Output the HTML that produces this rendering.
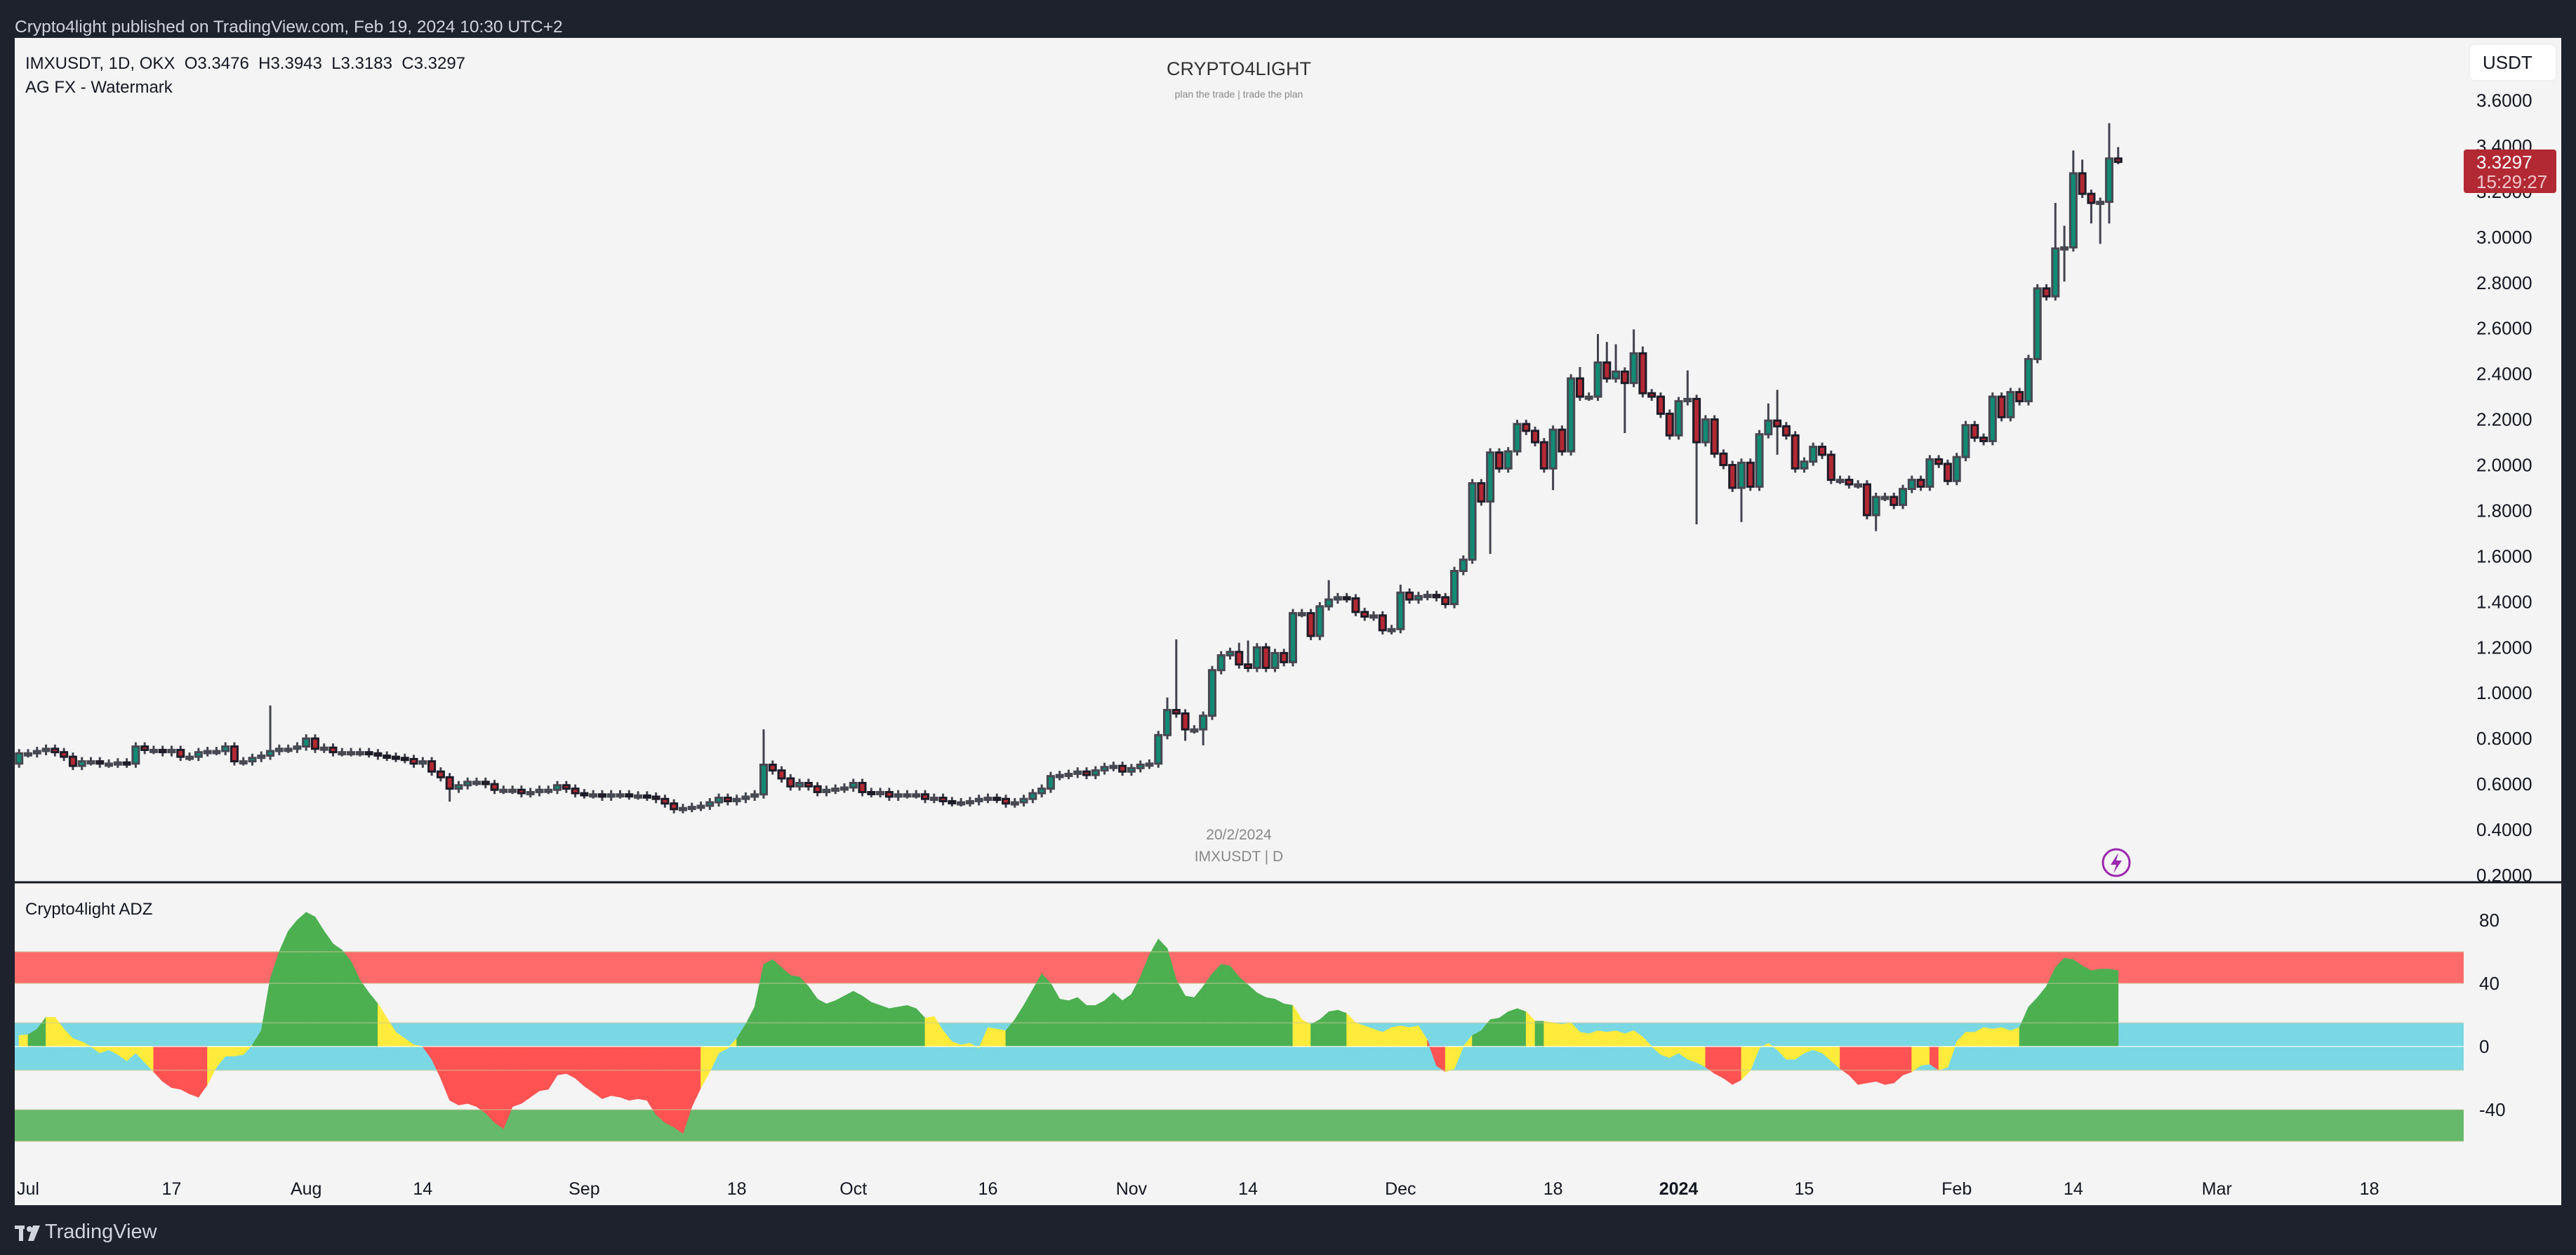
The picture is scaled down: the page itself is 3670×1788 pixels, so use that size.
<!DOCTYPE html>
<html><head><meta charset="utf-8">
<style>
html,body{margin:0;padding:0;background:#1e222d;}
svg{display:block;font-family:"Liberation Sans",sans-serif;}
</style></head>
<body>
<svg id="chart" xmlns="http://www.w3.org/2000/svg" width="3670" height="1788" viewBox="0 0 3670 1788">
  <rect x="0" y="0" width="3670" height="1788" fill="#1e222d"/>
  <text x="21" y="46" font-size="24.5" fill="#d1d4dc">Crypto4light published on TradingView.com, Feb 19, 2024 10:30 UTC+2</text>
  <rect x="21" y="54" width="3628" height="1663" fill="#f4f4f4"/>
  <g id="bands"></g>
  <g id="area"></g>
  <g id="bandlines"></g>
  <g id="candles"></g>
  <g id="yaxis"></g>
  <g id="iaxis"></g>
  <g id="xaxis"></g>
  <line x1="21" y1="1257" x2="3649" y2="1257" stroke="#131722" stroke-width="3"/>
  <text x="36" y="98" font-size="24" fill="#131722" xml:space="preserve">IMXUSDT, 1D, OKX  O3.3476  H3.3943  L3.3183  C3.3297</text>
  <text x="36" y="132" font-size="24" fill="#131722">AG FX - Watermark</text>
  <text x="36" y="1303" font-size="24" fill="#131722">Crypto4light ADZ</text>
  <text x="1765" y="107" font-size="27" fill="#333" text-anchor="middle">CRYPTO4LIGHT</text>
  <text x="1765" y="139" font-size="14" fill="#888" text-anchor="middle">plan the trade | trade the plan</text>
  <text x="1765" y="1196" font-size="21" fill="#888" text-anchor="middle">20/2/2024</text>
  <text x="1765" y="1227" font-size="21" fill="#888" text-anchor="middle">IMXUSDT | D</text>
  <g>
    <circle cx="3015" cy="1229" r="19" fill="none" stroke="#9c27b0" stroke-width="3"/>
    <path d="M3018 1215 L3007 1232 L3015 1232 L3011 1244 L3023 1226 L3015 1226 Z" fill="#9c27b0"/>
  </g>
  <g>
    <rect x="3518" y="63" width="124" height="52" rx="8" fill="#ffffff" stroke="#e6e6e6"/>
    <text x="3537" y="98" font-size="26" fill="#131722">USDT</text>
  </g>
  <g>
    <rect x="21" y="1746" width="14" height="5" fill="#d1d4dc"/>
    <rect x="27" y="1746" width="6" height="22" fill="#d1d4dc"/>
    <circle cx="42" cy="1751" r="4" fill="#d1d4dc"/>
    <path d="M47 1746 L57 1746 L48 1768 L40 1768 Z" fill="#d1d4dc"/>
    <text x="64" y="1764" font-size="29" fill="#d1d4dc">TradingView</text>
  </g>
</svg>
<script>
// ---------- price data ----------
const firstOpen = 0.69;
const closes = [0.735,0.735,0.745,0.755,0.74,0.72,0.68,0.70,0.70,0.69,0.69,0.695,0.69,0.765,0.75,0.75,0.74,0.75,0.72,0.72,
0.74,0.745,0.745,0.765,0.70,0.70,0.715,0.725,0.745,0.755,0.755,0.765,0.80,0.755,0.76,0.74,0.74,0.74,0.74,0.735,
0.725,0.72,0.715,0.71,0.69,0.70,0.655,0.63,0.58,0.595,0.61,0.61,0.60,0.575,0.575,0.575,0.56,0.565,0.575,0.575,
0.595,0.58,0.56,0.555,0.555,0.545,0.555,0.555,0.55,0.55,0.545,0.535,0.515,0.49,0.495,0.50,0.505,0.52,0.54,0.525,
0.535,0.545,0.555,0.685,0.66,0.625,0.59,0.605,0.59,0.565,0.575,0.58,0.585,0.605,0.565,0.56,0.565,0.545,0.555,0.555,
0.555,0.535,0.54,0.525,0.52,0.52,0.525,0.535,0.54,0.535,0.515,0.52,0.535,0.56,0.58,0.635,0.64,0.645,0.655,0.64,
0.66,0.675,0.68,0.655,0.67,0.685,0.69,0.815,0.925,0.91,0.84,0.84,0.90,1.10,1.165,1.18,1.125,1.11,1.20,1.11,
1.175,1.135,1.35,1.35,1.25,1.38,1.41,1.42,1.415,1.355,1.335,1.34,1.275,1.28,1.44,1.41,1.425,1.43,1.42,1.39,
1.535,1.585,1.92,1.84,2.055,1.985,2.06,2.18,2.15,2.10,1.985,2.155,2.06,2.38,2.30,2.30,2.45,2.38,2.41,2.36,
2.49,2.315,2.30,2.225,2.13,2.28,2.29,2.10,2.20,2.05,2.0,1.90,2.01,1.905,2.135,2.195,2.17,2.13,1.985,2.015,
2.08,2.045,1.935,1.935,1.915,1.915,1.78,1.86,1.86,1.825,1.895,1.935,1.905,2.025,2.005,1.93,2.035,2.175,2.12,2.105,
2.30,2.21,2.32,2.28,2.465,2.775,2.74,2.95,2.955,3.28,3.19,3.15,3.155,3.345,3.33];
const wickHighs = {28:0.945,83:0.84,128:0.98,129:1.235,136:1.22,137:1.23,146:1.495,154:1.475,174:2.43,176:2.575,177:2.54,178:2.53,180:2.595,181:2.52,186:2.415,195:2.27,196:2.33,227:3.15,228:3.05,229:3.38,230:3.34,233:3.50,234:3.395};
const wickLows = {48:0.523,130:0.79,132:0.77,164:1.61,171:1.89,179:2.14,187:1.74,192:1.75,196:2.045,207:1.71,228:2.805,231:3.06,232:2.97,233:3.06,234:3.32};
const priceTicks = ["0.2000","0.4000","0.6000","0.8000","1.0000","1.2000","1.4000","1.6000","1.8000","2.0000","2.2000","2.4000","2.6000","2.8000","3.0000","3.2000","3.4000","3.6000"];
const lastPrice = "3.3297";
const countdown = "15:29:27";
// ---------- time axis ----------
const dateLabels = ["Jul","17","Aug","14","Sep","18","Oct","16","Nov","14","Dec","18","2024","15","Feb","14","Mar","18"];
const dateDays = [0,16,31,44,62,79,92,107,123,136,153,170,184,198,215,228,244,261];
// ---------- ADZ indicator ----------
const adz = [7,7.5,11,18.5,18.5,11,5,3,0,-4,-2,-5,-9,-4,-10,-16,-22,-26,-27,-30,
-32,-24,-13,-6,-6,-5,1,10,43,60,73,80,85,82,73,65,61,54,42,34,
27,18,9,5,1,0,-8,-20,-34,-37,-36,-38,-42,-48,-52,-38,-36,-32,-28,-27,
-18,-17,-20,-25,-29,-33,-31,-32,-34,-33,-34,-43,-48,-51,-55,-38,-26,-16,-4,-1,
5,14,25,52,55,50,45,44,38,30,27,29,32,35,32,28,26,24,25,26,
24,18,19,10,3,1,2,-1,12,11,10,17,26,36,46,40,30,29,31,26,
26,29,34,29,33,44,58,68,62,42,32,31,38,46,52,51,44,39,34,31,
30,27,26,17,14,17,22,23,21,15,13,11,9,12,13,12,13,4,-12,-16,
-14,0,7,10,17,18,22,24,22,16,16,15,14,15,9,8,10,9,10,8,
10,6,0,-5,-7,-4,-8,-10,-13,-17,-20,-24,-21,-15,-1,2,-2,-8,-8,-4,
-2,-4,-9,-14,-18,-24,-23,-22,-24,-23,-18,-16,-12,-11,-15,-13,3,9,9,12,
11,12,10,12,25,31,38,50,56,55,51,48,49,49,48];
const zoneRuns = [["y",2],["g",2],["y",12],["r",6],["y",5],["g",14],["y",5],["r",31],["y",4],["g",21],["y",9],["g",32],["y",2],["g",4],["y",9],["r",2],["y",3],["g",6],["y",1],["g",1],["y",18],["r",4],["y",11],["r",8],["y",2],["r",1],["y",9],["g",11]];
const indTicks = [80,40,0,-40];
const bandDefs = [[40,60,"#ff6b6b"],[-15,15,"#7ad8e4"],[-60,-40,"#66b96a"]];

// ---------- scales ----------
const NS = "http://www.w3.org/2000/svg";
function xDay(d){ return 40 + d*12.78; }
function xBar(i){ return xDay(i-1); }
function yPrice(p){ return 143 + (3.6-p)*324.7; }
function yInd(v){ return 1491 - v*2.25; }
function mk(tag, attrs, parent){ const e=document.createElementNS(NS,tag); for(const k in attrs) e.setAttribute(k,attrs[k]); parent.appendChild(e); return e; }

// bands
const gB=document.getElementById('bands');
bandDefs.forEach(b=>{
  const r=mk('rect',{x:21,y:yInd(b[1]),width:3489,height:yInd(b[0])-yInd(b[1]),fill:b[2]},gB);
  
  
});
// area
const zones=[]; zoneRuns.forEach(z=>{for(let k=0;k<z[1];k++) zones.push(z[0]);});
const zCol={g:"#4caf50",y:"#ffeb3b",r:"#ff5252"};
const gA=document.getElementById('area');
const y0=yInd(0);
for(let i=0;i<adz.length-1;i++){
  const x1=xBar(i), x2=xBar(i+1), c=zCol[zones[i+1]]||"#ffeb3b";
  const p=mk('polygon',{points:`${x1},${y0} ${x1},${yInd(adz[i])} ${x2},${yInd(adz[i+1])} ${x2},${y0}`,fill:c,stroke:c,'stroke-width':0.8},gA);
  
  
}
const gL=document.getElementById('bandlines');
[60,40,15,-15,-40,-60].forEach(v=>{
  const l=mk('line',{x1:21,x2:3510,y1:yInd(v),y2:yInd(v),stroke:"rgba(200,200,150,0.45)",'stroke-width':2},gL);
  
  
});
const zl=mk('line',{x1:21,x2:3510,y1:y0,y2:y0,stroke:"rgba(255,255,255,0.6)",'stroke-width':2},gL);



// candles
const gC=document.getElementById('candles');
for(let i=0;i<closes.length;i++){
  const o = i===0?firstOpen:closes[i-1], c=closes[i];
  const up = c>=o, x=xBar(i);
  const top=yPrice(Math.max(o,c)), bot=yPrice(Math.min(o,c));
  const hi = wickHighs[i]!==undefined ? yPrice(wickHighs[i]) : top-6;
  const lo = wickLows[i]!==undefined ? yPrice(wickLows[i]) : bot+6;
  const g=mk('g',{},gC);
  
  
  mk('line',{x1:x,x2:x,y1:hi,y2:lo,stroke:"#43434f",'stroke-width':3},g);
  mk('rect',{x:x-4.5,y:top,width:9,height:Math.max(bot-top,3),fill:up?"#138a74":"#b22833",stroke:up?"#484853":"#1c1c28",'stroke-width':3},g);
}

// price axis
const gY=document.getElementById('yaxis');
priceTicks.forEach(t=>{
  const tx=mk('text',{x:3528,y:yPrice(parseFloat(t))+9,'font-size':26,fill:"#131722"},gY);
  tx.textContent=t;
  
  
});
const pl=mk('g',{},gY);


mk('rect',{x:3510,y:213,width:132,height:62,rx:4,fill:"#b22833"},pl);
const t1=mk('text',{x:3528,y:240,'font-size':26,fill:"#ffffff"},pl); t1.textContent=lastPrice;
const t2=mk('text',{x:3528,y:268,'font-size':26,fill:"#f2c6c9"},pl); t2.textContent=countdown;

// indicator axis
const gI=document.getElementById('iaxis');
indTicks.forEach(v=>{
  const tx=mk('text',{x:3532,y:yInd(v)+9,'font-size':26,fill:"#131722"},gI);
  tx.textContent=String(v);
  
  
});

// time axis
const gX=document.getElementById('xaxis');
dateLabels.forEach((l,k)=>{
  const tx=mk('text',{x:xDay(dateDays[k]),y:1702,'font-size':25,fill:"#131722",'text-anchor':'middle','font-weight':l==="2024"?"bold":"normal"},gX);
  tx.textContent=l;
  
  
});
</script>
</body></html>
